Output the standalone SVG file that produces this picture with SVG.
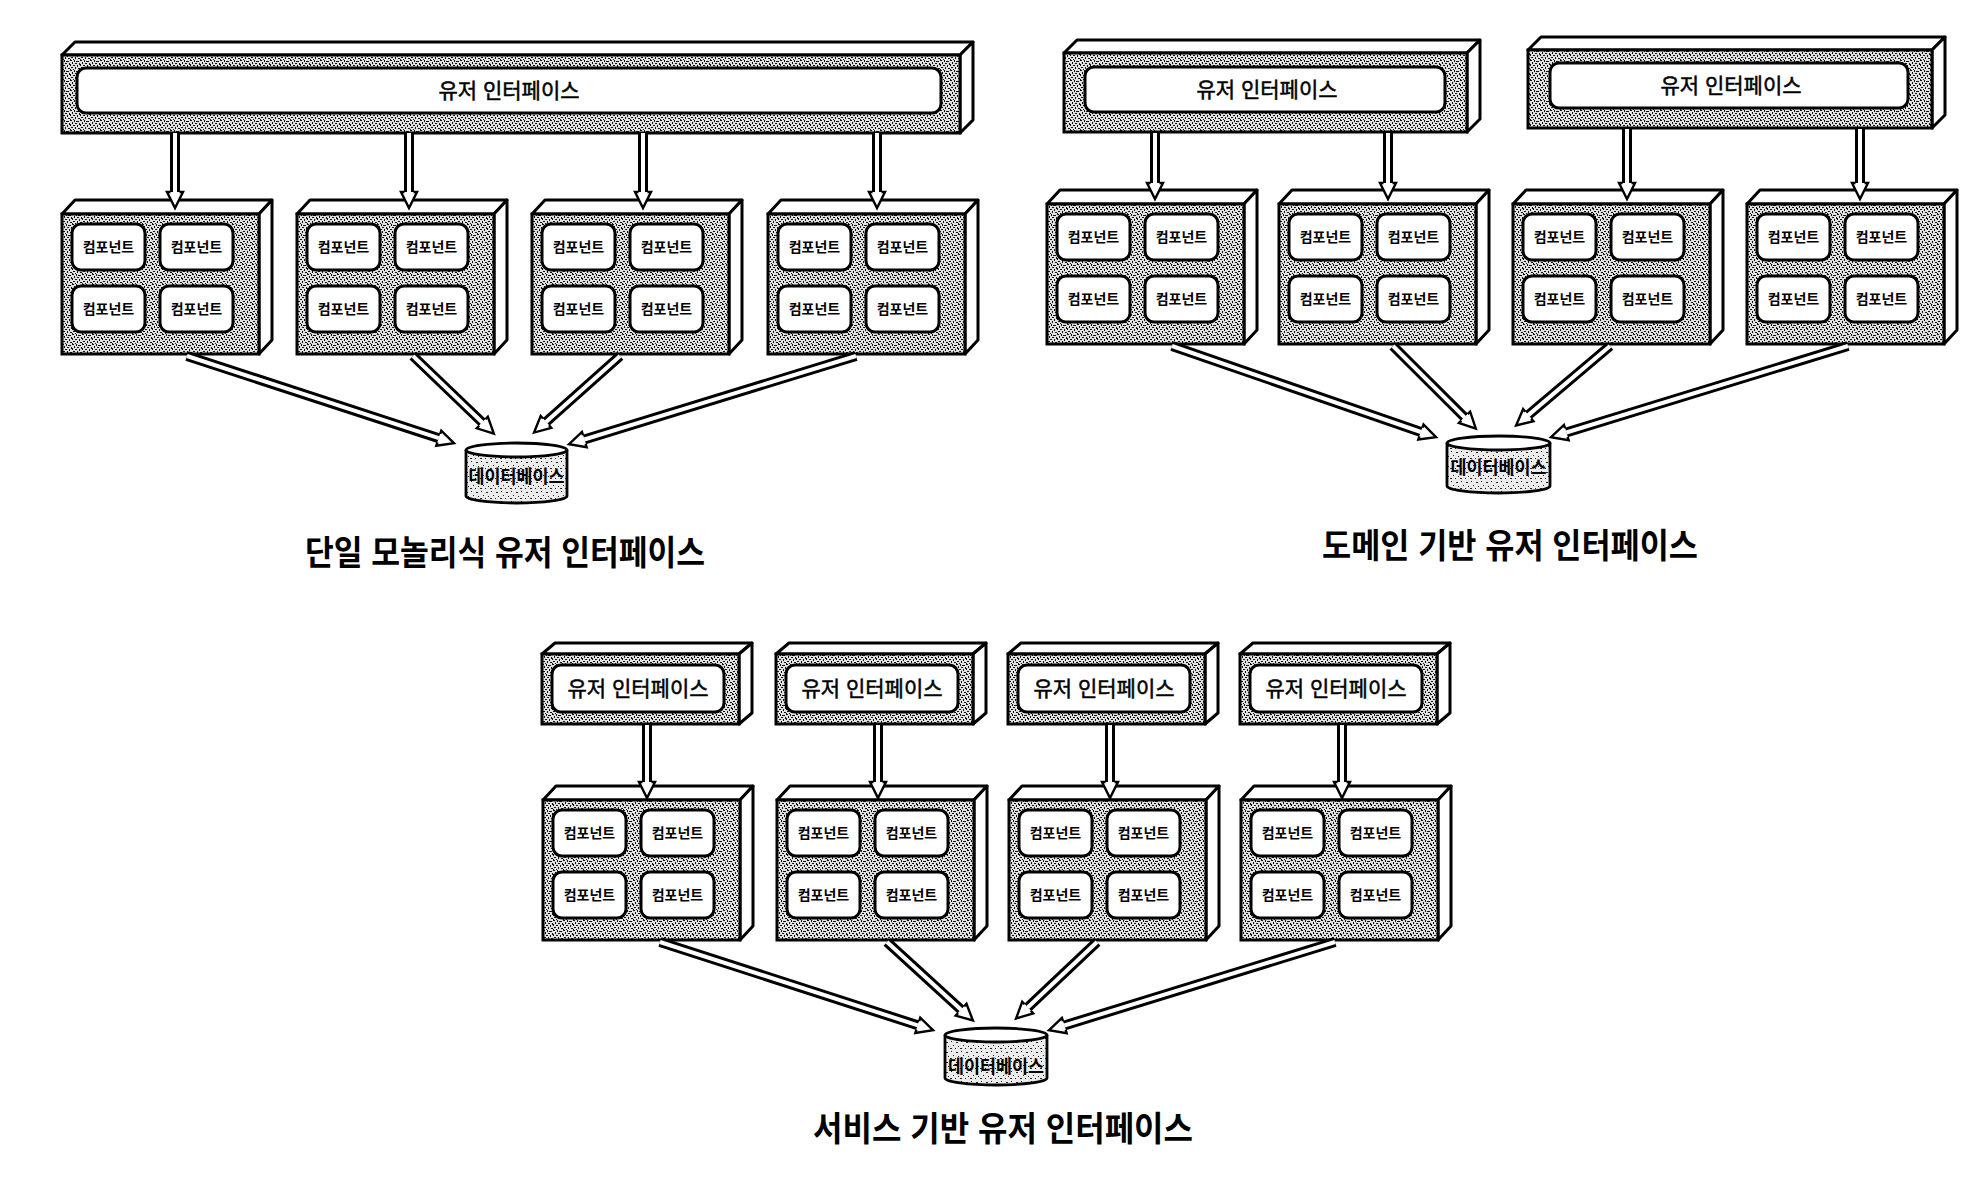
<svg xmlns="http://www.w3.org/2000/svg" width="1970" height="1184" viewBox="0 0 1970 1184">
<style>
text{font-family:'Liberation Sans','Noto Sans CJK KR',sans-serif;fill:#000}
.ui{font-size:21px;text-anchor:middle;stroke:#000;stroke-width:0.5}
.ct{font-size:14px;font-weight:bold;text-anchor:middle}
.db{font-size:18px;font-weight:bold;text-anchor:middle}
.ttl{font-size:34px;font-weight:bold;text-anchor:middle}
.face{fill:#fff;stroke:#000;stroke-width:3;stroke-linejoin:round}
.front{fill:url(#spk);stroke:#000;stroke-width:3}
.tile{fill:#fff;stroke:#000;stroke-width:3}
.dbb{fill:url(#spk2);stroke:#000;stroke-width:2.8}
.dbt{fill:#fff;stroke:#000;stroke-width:2.8}
.sb{stroke:#000;stroke-width:10;fill:none}
.sw{stroke:#fff;stroke-width:4;fill:none;marker-end:url(#ah)}
</style>
<defs>
<pattern id="spk" width="10" height="10" patternUnits="userSpaceOnUse">
<rect width="10" height="10" fill="#e0e0e0"/>
<path fill="#111" d="M0 0h2v1H0zM4 0h1v2H4zM7 1h2v1H7zM2 2h1v2H2zM5 3h2v1H5zM9 3h1v2H9zM0 4h1v2H0zM3 5h2v1H3zM7 5h1v2H7zM1 7h2v1H1zM5 7h1v2H5zM8 8h2v1H8zM3 9h1v1H3zM6 1h1v1H6zM0 9h1v1H0z"/>
</pattern>
<pattern id="spk2" width="10" height="10" patternUnits="userSpaceOnUse">
<rect width="10" height="10" fill="#ececec"/>
<path fill="#222" d="M1 1h1v1H1zM6 2h2v1H6zM3 5h1v1H3zM8 6h1v1H8zM0 8h2v1H0zM5 8h1v1H5z"/>
</pattern>
<marker id="ah" viewBox="-3 -11 22 22" refX="0" refY="0" markerWidth="22" markerHeight="22" markerUnits="userSpaceOnUse" orient="auto" overflow="visible">
<path d="M0,-8 L16,0 L0,8Z" fill="#fff"/>
<path d="M0,-4.5 V-8 L16,0 L0,8 V4.5" fill="none" stroke="#000" stroke-width="2.4"/>
</marker>
<g id="cshell">
<polygon class="face" points="0,0 13,-14 210,-14 197,0"/>
<polygon class="face" points="197,0 210,-14 210,126 197,140"/>
<rect class="front" width="197" height="140"/>
<rect class="tile" x="10" y="10" width="73" height="46" rx="9"/>
<rect class="tile" x="98" y="10" width="73" height="46" rx="9"/>
<rect class="tile" x="10" y="72" width="73" height="46" rx="9"/>
<rect class="tile" x="98" y="72" width="73" height="46" rx="9"/>
</g>
<g id="ushell">
<polygon class="face" points="0,0 13,-11 210,-11 197,0"/>
<polygon class="face" points="197,0 210,-11 210,59 197,70"/>
<rect class="front" width="197" height="70"/>
<rect class="tile" x="10" y="11" width="172" height="47" rx="9"/>
</g>
</defs>
<rect width="1970" height="1184" fill="#fff"/>

<!-- Diagram 1: monolithic UI -->
<g id="d1-ui">
<polygon class="face" points="62,55 75,42 973,42 960,55"/>
<polygon class="face" points="960,55 973,42 973,120 960,133"/>
<rect class="front" x="62" y="55" width="898" height="78"/>
<rect class="tile" x="77" y="68" width="864" height="45" rx="9"/>
<text class="ui" x="509" y="98">유저 인터페이스</text>
</g>
<g id="d1-comp1" transform="translate(62,214)"><use href="#cshell"/><text class="ct" x="46.5" y="38">컴포넌트</text><text class="ct" x="134.5" y="38">컴포넌트</text><text class="ct" x="46.5" y="100">컴포넌트</text><text class="ct" x="134.5" y="100">컴포넌트</text></g>
<g id="d1-comp2" transform="translate(297,214)"><use href="#cshell"/><text class="ct" x="46.5" y="38">컴포넌트</text><text class="ct" x="134.5" y="38">컴포넌트</text><text class="ct" x="46.5" y="100">컴포넌트</text><text class="ct" x="134.5" y="100">컴포넌트</text></g>
<g id="d1-comp3" transform="translate(532,214)"><use href="#cshell"/><text class="ct" x="46.5" y="38">컴포넌트</text><text class="ct" x="134.5" y="38">컴포넌트</text><text class="ct" x="46.5" y="100">컴포넌트</text><text class="ct" x="134.5" y="100">컴포넌트</text></g>
<g id="d1-comp4" transform="translate(768,214)"><use href="#cshell"/><text class="ct" x="46.5" y="38">컴포넌트</text><text class="ct" x="134.5" y="38">컴포넌트</text><text class="ct" x="46.5" y="100">컴포넌트</text><text class="ct" x="134.5" y="100">컴포넌트</text></g>
<g id="d1-db">
<path class="dbb" d="M466,450 V496 A50.5,7 0 0 0 567,496 V450"/>
<ellipse class="dbt" cx="516.5" cy="450" rx="50.5" ry="7"/>
<text class="db" x="516.5" y="483" textLength="96" lengthAdjust="spacingAndGlyphs">데이터베이스</text>
</g>

<!-- Diagram 2: domain-based UI -->
<g id="d2-ui1">
<polygon class="face" points="1064,53 1077,40 1480,40 1467,53"/>
<polygon class="face" points="1467,53 1480,40 1480,119 1467,132"/>
<rect class="front" x="1064" y="53" width="403" height="79"/>
<rect class="tile" x="1085" y="67" width="360" height="45" rx="9"/>
<text class="ui" x="1267" y="97">유저 인터페이스</text>
</g>
<g id="d2-ui2">
<polygon class="face" points="1528,50 1541,37 1945,37 1932,50"/>
<polygon class="face" points="1932,50 1945,37 1945,115 1932,128"/>
<rect class="front" x="1528" y="50" width="404" height="78"/>
<rect class="tile" x="1550" y="63" width="358" height="45" rx="9"/>
<text class="ui" x="1731" y="93">유저 인터페이스</text>
</g>
<g id="d2-comp1" transform="translate(1047,204)"><use href="#cshell"/><text class="ct" x="46.5" y="38">컴포넌트</text><text class="ct" x="134.5" y="38">컴포넌트</text><text class="ct" x="46.5" y="100">컴포넌트</text><text class="ct" x="134.5" y="100">컴포넌트</text></g>
<g id="d2-comp2" transform="translate(1279,204)"><use href="#cshell"/><text class="ct" x="46.5" y="38">컴포넌트</text><text class="ct" x="134.5" y="38">컴포넌트</text><text class="ct" x="46.5" y="100">컴포넌트</text><text class="ct" x="134.5" y="100">컴포넌트</text></g>
<g id="d2-comp3" transform="translate(1513,204)"><use href="#cshell"/><text class="ct" x="46.5" y="38">컴포넌트</text><text class="ct" x="134.5" y="38">컴포넌트</text><text class="ct" x="46.5" y="100">컴포넌트</text><text class="ct" x="134.5" y="100">컴포넌트</text></g>
<g id="d2-comp4" transform="translate(1747,204)"><use href="#cshell"/><text class="ct" x="46.5" y="38">컴포넌트</text><text class="ct" x="134.5" y="38">컴포넌트</text><text class="ct" x="46.5" y="100">컴포넌트</text><text class="ct" x="134.5" y="100">컴포넌트</text></g>
<g id="d2-db">
<path class="dbb" d="M1447,443 V486 A51.5,7 0 0 0 1550,486 V443"/>
<ellipse class="dbt" cx="1498.5" cy="443" rx="51.5" ry="7"/>
<text class="db" x="1498.5" y="474" textLength="96" lengthAdjust="spacingAndGlyphs">데이터베이스</text>
</g>

<!-- Diagram 3: service-based UI -->
<g id="d3-ui1" transform="translate(542,654)"><use href="#ushell"/><text class="ui" x="96" y="42">유저 인터페이스</text></g>
<g id="d3-ui2" transform="translate(776,654)"><use href="#ushell"/><text class="ui" x="96" y="42">유저 인터페이스</text></g>
<g id="d3-ui3" transform="translate(1008,654)"><use href="#ushell"/><text class="ui" x="96" y="42">유저 인터페이스</text></g>
<g id="d3-ui4" transform="translate(1240,654)"><use href="#ushell"/><text class="ui" x="96" y="42">유저 인터페이스</text></g>
<g id="d3-comp1" transform="translate(543,800)"><use href="#cshell"/><text class="ct" x="46.5" y="38">컴포넌트</text><text class="ct" x="134.5" y="38">컴포넌트</text><text class="ct" x="46.5" y="100">컴포넌트</text><text class="ct" x="134.5" y="100">컴포넌트</text></g>
<g id="d3-comp2" transform="translate(777,800)"><use href="#cshell"/><text class="ct" x="46.5" y="38">컴포넌트</text><text class="ct" x="134.5" y="38">컴포넌트</text><text class="ct" x="46.5" y="100">컴포넌트</text><text class="ct" x="134.5" y="100">컴포넌트</text></g>
<g id="d3-comp3" transform="translate(1009,800)"><use href="#cshell"/><text class="ct" x="46.5" y="38">컴포넌트</text><text class="ct" x="134.5" y="38">컴포넌트</text><text class="ct" x="46.5" y="100">컴포넌트</text><text class="ct" x="134.5" y="100">컴포넌트</text></g>
<g id="d3-comp4" transform="translate(1241,800)"><use href="#cshell"/><text class="ct" x="46.5" y="38">컴포넌트</text><text class="ct" x="134.5" y="38">컴포넌트</text><text class="ct" x="46.5" y="100">컴포넌트</text><text class="ct" x="134.5" y="100">컴포넌트</text></g>
<g id="d3-db">
<path class="dbb" d="M945,1035 V1078 A51,7 0 0 0 1047,1078 V1035"/>
<ellipse class="dbt" cx="996" cy="1035" rx="51" ry="7"/>
<text class="db" x="996" y="1073" textLength="96" lengthAdjust="spacingAndGlyphs">데이터베이스</text>
</g>

<g id="connectors">
<!-- D1 vertical -->
<line class="sb" x1="175" y1="133" x2="175" y2="192"/><line class="sw" x1="175" y1="133" x2="175" y2="192"/>
<line class="sb" x1="409" y1="133" x2="409" y2="192"/><line class="sw" x1="409" y1="133" x2="409" y2="192"/>
<line class="sb" x1="643" y1="133" x2="643" y2="192"/><line class="sw" x1="643" y1="133" x2="643" y2="192"/>
<line class="sb" x1="877" y1="133" x2="877" y2="192"/><line class="sw" x1="877" y1="133" x2="877" y2="192"/>
<!-- D1 diagonal -->
<line class="sb" x1="187" y1="356" x2="438.8" y2="438.2"/><line class="sw" x1="187" y1="356" x2="438.8" y2="438.2"/>
<line class="sb" x1="413" y1="356" x2="482.3" y2="422.5"/><line class="sw" x1="413" y1="356" x2="482.3" y2="422.5"/>
<line class="sb" x1="620" y1="356" x2="546.0" y2="421.9"/><line class="sw" x1="620" y1="356" x2="546.0" y2="421.9"/>
<line class="sb" x1="856" y1="356" x2="584.3" y2="439.5"/><line class="sw" x1="856" y1="356" x2="584.3" y2="439.5"/>
<!-- D2 vertical -->
<line class="sb" x1="1155" y1="133" x2="1155" y2="183"/><line class="sw" x1="1155" y1="133" x2="1155" y2="183"/>
<line class="sb" x1="1388" y1="133" x2="1388" y2="183"/><line class="sw" x1="1388" y1="133" x2="1388" y2="183"/>
<line class="sb" x1="1627" y1="129" x2="1627" y2="183"/><line class="sw" x1="1627" y1="129" x2="1627" y2="183"/>
<line class="sb" x1="1860" y1="129" x2="1860" y2="183"/><line class="sw" x1="1860" y1="129" x2="1860" y2="183"/>
<!-- D2 diagonal -->
<line class="sb" x1="1172" y1="346" x2="1420.9" y2="432.0"/><line class="sw" x1="1172" y1="346" x2="1420.9" y2="432.0"/>
<line class="sb" x1="1393" y1="346" x2="1464.5" y2="417.3"/><line class="sw" x1="1393" y1="346" x2="1464.5" y2="417.3"/>
<line class="sb" x1="1610" y1="346" x2="1528.3" y2="415.1"/><line class="sw" x1="1610" y1="346" x2="1528.3" y2="415.1"/>
<line class="sb" x1="1848" y1="346" x2="1566.3" y2="432.5"/><line class="sw" x1="1848" y1="346" x2="1566.3" y2="432.5"/>
<!-- D3 vertical -->
<line class="sb" x1="647" y1="725" x2="647" y2="782"/><line class="sw" x1="647" y1="725" x2="647" y2="782"/>
<line class="sb" x1="878" y1="725" x2="878" y2="782"/><line class="sw" x1="878" y1="725" x2="878" y2="782"/>
<line class="sb" x1="1110" y1="725" x2="1110" y2="782"/><line class="sw" x1="1110" y1="725" x2="1110" y2="782"/>
<line class="sb" x1="1342" y1="725" x2="1342" y2="782"/><line class="sw" x1="1342" y1="725" x2="1342" y2="782"/>
<!-- D3 diagonal -->
<line class="sb" x1="660" y1="942" x2="917.8" y2="1025.3"/><line class="sw" x1="660" y1="942" x2="917.8" y2="1025.3"/>
<line class="sb" x1="887" y1="942" x2="961.1" y2="1009.7"/><line class="sw" x1="887" y1="942" x2="961.1" y2="1009.7"/>
<line class="sb" x1="1097" y1="942" x2="1027.7" y2="1007.5"/><line class="sw" x1="1097" y1="942" x2="1027.7" y2="1007.5"/>
<line class="sb" x1="1335" y1="942" x2="1064.3" y2="1025.5"/><line class="sw" x1="1335" y1="942" x2="1064.3" y2="1025.5"/>
</g>

<g id="titles">
<text class="ttl" x="505" y="565" textLength="400" lengthAdjust="spacingAndGlyphs">단일 모놀리식 유저 인터페이스</text>
<text class="ttl" x="1510" y="558" textLength="376" lengthAdjust="spacingAndGlyphs">도메인 기반 유저 인터페이스</text>
<text class="ttl" x="1003" y="1141" textLength="380" lengthAdjust="spacingAndGlyphs">서비스 기반 유저 인터페이스</text>
</g>
</svg>
